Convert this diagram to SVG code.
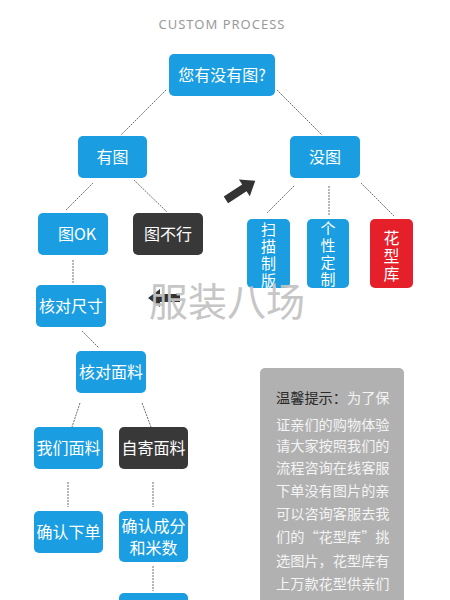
<svg xmlns="http://www.w3.org/2000/svg" width="450" height="600" viewBox="0 0 450 600">
<defs>
<style>
.n{fill:#1a9de1}
.d{fill:#383838}
.r{fill:#e5202b}
.t{font-family:"Noto Sans CJK SC","Noto Sans",sans-serif;fill:#fff;font-size:16px;text-anchor:middle}
.v{font-family:"Noto Sans CJK SC","Noto Sans",sans-serif;fill:#fff;font-size:15px;writing-mode:vertical-rl;text-anchor:start;letter-spacing:2px}
.c{stroke:#6e6e6e;stroke-width:1;stroke-dasharray:2 1;fill:none}
.tip{font-family:"Noto Sans CJK SC","Noto Sans",sans-serif;font-size:14.2px;fill:#f4f4f4}
</style>
</defs>
<rect width="450" height="600" fill="#fff"/>
<text x="222" y="29" font-family="'Noto Sans','Open Sans',sans-serif" font-size="13" fill="#9a9a9a" text-anchor="middle" letter-spacing="1">CUSTOM PROCESS</text>

<g id="connectors">
<line class="c" x1="166" y1="90" x2="121" y2="135"/>
<line class="c" x1="277" y1="90" x2="322" y2="135"/>
<line class="c" x1="93" y1="183" x2="66" y2="210"/>
<line class="c" x1="134" y1="180" x2="167" y2="212"/>
<line class="c" x1="294" y1="186" x2="267" y2="213"/>
<line class="c" x1="329" y1="186" x2="329" y2="215"/>
<line class="c" x1="361" y1="183" x2="394" y2="216"/>
<line class="c" x1="73" y1="260" x2="73" y2="283"/>
<line class="c" x1="82" y1="331" x2="99" y2="348"/>
<line class="c" x1="80" y1="403" x2="72" y2="427"/>
<line class="c" x1="142" y1="403" x2="151" y2="427"/>
<line class="c" x1="68" y1="482" x2="68" y2="507"/>
<line class="c" x1="153" y1="482" x2="153" y2="507"/>
<line class="c" x1="153" y1="566" x2="153" y2="591"/>
<polygon fill="#333" transform="translate(241,190) rotate(-33)" points="-18,-4 4,-4 4,-10 17,0 4,10 4,4 -18,4"/>
<polygon fill="#333" transform="translate(164,298)" points="16,-4 -4,-4 -4,-9 -16,0 -4,9 -4,4 16,4"/>
</g>

<g id="n_top"><rect class="n" x="169" y="54" width="106" height="42" rx="5"/><text class="t" x="222" y="81" font-size="17">您有没有图?</text></g>
<g id="n_youtu"><rect class="n" x="78" y="136" width="69" height="42" rx="5"/><text class="t" x="112.5" y="163">有图</text></g>
<g id="n_meitu"><rect class="n" x="290" y="136" width="70" height="42" rx="5"/><text class="t" x="325" y="163">没图</text></g>
<g id="n_tuok"><rect class="n" x="38" y="213" width="70" height="42" rx="5"/><text class="t" x="77" y="240">图OK</text></g>
<g id="n_tubuxing"><rect class="d" x="133" y="213" width="70" height="42" rx="5"/><text class="t" x="168" y="240">图不行</text></g>
<g id="n_saomiao"><rect class="n" x="247" y="219" width="43" height="69" rx="5"/><text class="v" x="268.5" y="222">扫描制版</text></g>
<g id="n_gexing"><rect class="n" x="307" y="219" width="42" height="69" rx="5"/><text class="v" x="328" y="221">个性定制</text></g>
<g id="n_huaxing"><rect class="r" x="370" y="219" width="43" height="69" rx="5"/><text class="v" x="391.5" y="230" style="font-size:16px">花型库</text></g>
<g id="n_chicun"><rect class="n" x="36" y="285" width="70" height="42" rx="5"/><text class="t" x="71" y="312">核对尺寸</text></g>
<g id="n_mianliao"><rect class="n" x="76" y="351" width="70" height="42" rx="5"/><text class="t" x="111" y="378">核对面料</text></g>
<g id="n_women"><rect class="n" x="34" y="427" width="69" height="42" rx="5"/><text class="t" x="68.5" y="454">我们面料</text></g>
<g id="n_ziji"><rect class="d" x="119" y="427" width="69" height="42" rx="5"/><text class="t" x="153.5" y="454">自寄面料</text></g>
<g id="n_xiadan"><rect class="n" x="34" y="511" width="69" height="42" rx="5"/><text class="t" x="68.5" y="538">确认下单</text></g>
<g id="n_chengfen"><rect class="n" x="119" y="511" width="69" height="51" rx="5"/><text class="t" x="153.5" y="532">确认成分</text><text class="t" x="153.5" y="554">和米数</text></g>
<g id="n_bottom"><rect class="n" x="119" y="593" width="69" height="20" rx="5"/></g>

<g id="tip">
<rect x="260" y="368" width="144" height="245" rx="5" fill="#b1b1b1"/>
<text class="tip" x="276" y="403"><tspan fill="#2a2a2a">温馨提示：</tspan>为了保</text>
<text class="tip" x="276" y="430">证亲们的购物体验</text>
<text class="tip" x="276" y="451">请大家按照我们的</text>
<text class="tip" x="276" y="473">流程咨询在线客服</text>
<text class="tip" x="276" y="496">下单没有图片的亲</text>
<text class="tip" x="276" y="519">可以咨询客服去我</text>
<text class="tip" x="276" y="542">们的“花型库”挑</text>
<text class="tip" x="276" y="566">选图片，花型库有</text>
<text class="tip" x="276" y="589">上万款花型供亲们</text>
</g>

<text x="227" y="316" font-family="'Noto Sans CJK SC',sans-serif" font-size="39" fill="#c4c4c4" text-anchor="middle" opacity="0.95">服装八场</text>
</svg>
